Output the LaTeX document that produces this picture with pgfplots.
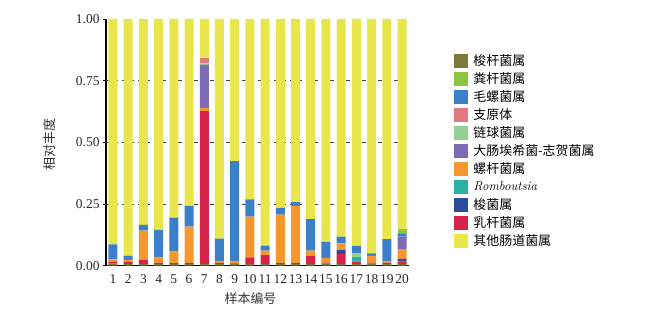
\documentclass[border=0pt]{standalone}
\usepackage{pgfplots}
\pgfplotsset{compat=1.18}
\usepackage{pgfplotstable}
\usepackage{fontspec}
\newfontfamily\cjk{Noto Sans CJK SC}
\newfontfamily\tnr{Liberation Serif}
\definecolor{cFuso}{HTML}{7B7A3A}
\definecolor{cFaec}{HTML}{8CC540}
\definecolor{cLach}{HTML}{3B7FC8}
\definecolor{cMyco}{HTML}{E07A80}
\definecolor{cStrep}{HTML}{94CF94}
\definecolor{cEsch}{HTML}{7D6BB5}
\definecolor{cHeli}{HTML}{F5962F}
\definecolor{cRomb}{HTML}{2BB0A6}
\definecolor{cClos}{HTML}{2B4C9C}
\definecolor{cLact}{HTML}{D5234A}
\definecolor{cOther}{HTML}{E9E64C}
\pgfplotstableread{
s  fuso  lact  clos  romb  heli  esch  strep myco  lach  faec  other
1  0.008 0.008 0     0     0.010 0     0     0     0.060 0     0.914
2  0.006 0.010 0     0     0.008 0     0     0     0.016 0     0.960
3  0.006 0.018 0     0     0.118 0     0     0     0.023 0     0.835
4  0.006 0.006 0     0     0.024 0     0     0     0.109 0     0.855
5  0.006 0.004 0     0     0.050 0     0     0     0.135 0     0.805
6  0.006 0.004 0     0     0.148 0     0     0     0.085 0     0.757
7  0.006 0.621 0     0     0.013 0.174 0.006 0.023 0     0     0.157
8  0.006 0.004 0     0     0.010 0     0     0     0.090 0     0.890
9  0.006 0.003 0     0     0.011 0     0     0     0.404 0     0.576
10 0.006 0.028 0     0     0.165 0     0     0     0.070 0     0.731
11 0.006 0.037 0     0     0.018 0     0     0     0.020 0     0.919
12 0.006 0.004 0     0     0.197 0     0     0     0.027 0     0.766
13 0.006 0.004 0     0     0.233 0     0     0     0.015 0     0.742
14 0.006 0.033 0     0     0.022 0     0     0     0.128 0     0.811
15 0.008 0.004 0     0     0.020 0     0     0     0.065 0     0.903
16 0.006 0.041 0.016 0    0.027 0     0     0     0.028 0     0.882
17 0.006 0.012 0     0.016 0    0     0.016 0     0.030 0     0.920
18 0.008 0.004 0     0     0.028 0     0     0     0.010 0     0.950
19 0.006 0.006 0     0     0.008 0     0     0     0.088 0     0.892
20 0.006 0.012 0.010 0     0.037 0.053 0     0     0.012 0.017 0.853
}\datatable
\begin{document}
\begin{tikzpicture}
\path[use as bounding box] (0,0) rectangle (650bp,314bp);
\begin{axis}[at={(106bp,48.3bp)}, anchor=south west, scale only axis,
  width=303bp, height=246.7bp,
  ybar stacked, bar width=9bp,
  xmin=0.54, xmax=20.46, ymin=0, ymax=1,
  xtick={1,...,20}, xtick style={draw=none},
  ytick={0,0.25,0.5,0.75,1}, ytick style={black, line width=0.6pt},
  tick align=outside, major tick length=3bp,
  extra y ticks={0.25,0.5,0.75}, extra y tick labels={},
  extra y tick style={grid=major, major tick length=0pt},
  grid style={black!75, dash pattern=on 4bp off 4bp, line width=0.5pt},
  axis x line*=bottom, axis y line*=left,
  axis line style={line width=1.2pt},
  /pgf/number format/assume math mode=true,
  tick label style={font=\tnr\fontsize{13.5}{15}\selectfont, color=black!85},
  xticklabel style={yshift=-2bp},
  yticklabel style={/pgf/number format/.cd, fixed, fixed zerofill, precision=2, assume math mode=true},
  ylabel={\cjk 相对丰度},
  ylabel style={at={(axis description cs:-0.185,0.49)}, anchor=center, font=\fontsize{13}{15}\selectfont, color=black!80},
  xlabel={\cjk 样本编号},
  xlabel style={at={(axis description cs:0.477,-0.135)}, anchor=center, font=\fontsize{13}{15}\selectfont, color=black!80},
  legend style={at={(rel axis cs:1.148,0.857)}, anchor=north west, draw=none, fill=none,
    inner sep=0pt, row sep=4.6bp, font=\fontsize{13}{15}\selectfont,
    nodes={inner sep=0pt},
    /tikz/every odd column/.append style={column sep=6bp}},
  legend cell align=left,
]
\addplot[fill=cFuso, draw=none, forget plot] table[x=s,y=fuso]{\datatable};
\addplot[fill=cLact, draw=none, forget plot] table[x=s,y=lact]{\datatable};
\addplot[fill=cClos, draw=none, forget plot] table[x=s,y=clos]{\datatable};
\addplot[fill=cRomb, draw=none, forget plot] table[x=s,y=romb]{\datatable};
\addplot[fill=cHeli, draw=none, forget plot] table[x=s,y=heli]{\datatable};
\addplot[fill=cEsch, draw=none, forget plot] table[x=s,y=esch]{\datatable};
\addplot[fill=cStrep, draw=none, forget plot] table[x=s,y=strep]{\datatable};
\addplot[fill=cMyco, draw=none, forget plot] table[x=s,y=myco]{\datatable};
\addplot[fill=cLach, draw=none, forget plot] table[x=s,y=lach]{\datatable};
\addplot[fill=cFaec, draw=none, forget plot] table[x=s,y=faec]{\datatable};
\addplot[fill=cOther, draw=none, forget plot] table[x=s,y=other]{\datatable};
\addlegendimage{legend image code/.code={\fill[cFuso] (0bp,-6.5bp) rectangle (13bp,6.5bp);}}
\addlegendentry{\cjk 梭杆菌属}
\addlegendimage{legend image code/.code={\fill[cFaec] (0bp,-6.5bp) rectangle (13bp,6.5bp);}}
\addlegendentry{\cjk 粪杆菌属}
\addlegendimage{legend image code/.code={\fill[cLach] (0bp,-6.5bp) rectangle (13bp,6.5bp);}}
\addlegendentry{\cjk 毛螺菌属}
\addlegendimage{legend image code/.code={\fill[cMyco] (0bp,-6.5bp) rectangle (13bp,6.5bp);}}
\addlegendentry{\cjk 支原体}
\addlegendimage{legend image code/.code={\fill[cStrep] (0bp,-6.5bp) rectangle (13bp,6.5bp);}}
\addlegendentry{\cjk 链球菌属}
\addlegendimage{legend image code/.code={\fill[cEsch] (0bp,-6.5bp) rectangle (13bp,6.5bp);}}
\addlegendentry{\cjk 大肠埃希菌-志贺菌属}
\addlegendimage{legend image code/.code={\fill[cHeli] (0bp,-6.5bp) rectangle (13bp,6.5bp);}}
\addlegendentry{\cjk 螺杆菌属}
\addlegendimage{legend image code/.code={\fill[cRomb] (0bp,-6.5bp) rectangle (13bp,6.5bp);}}
\addlegendentry{\textit{Romboutsia}}
\addlegendimage{legend image code/.code={\fill[cClos] (0bp,-6.5bp) rectangle (13bp,6.5bp);}}
\addlegendentry{\cjk 梭菌属}
\addlegendimage{legend image code/.code={\fill[cLact] (0bp,-6.5bp) rectangle (13bp,6.5bp);}}
\addlegendentry{\cjk 乳杆菌属}
\addlegendimage{legend image code/.code={\fill[cOther] (0bp,-6.5bp) rectangle (13bp,6.5bp);}}
\addlegendentry{\cjk 其他肠道菌属}
\end{axis}
\end{tikzpicture}
\end{document}
